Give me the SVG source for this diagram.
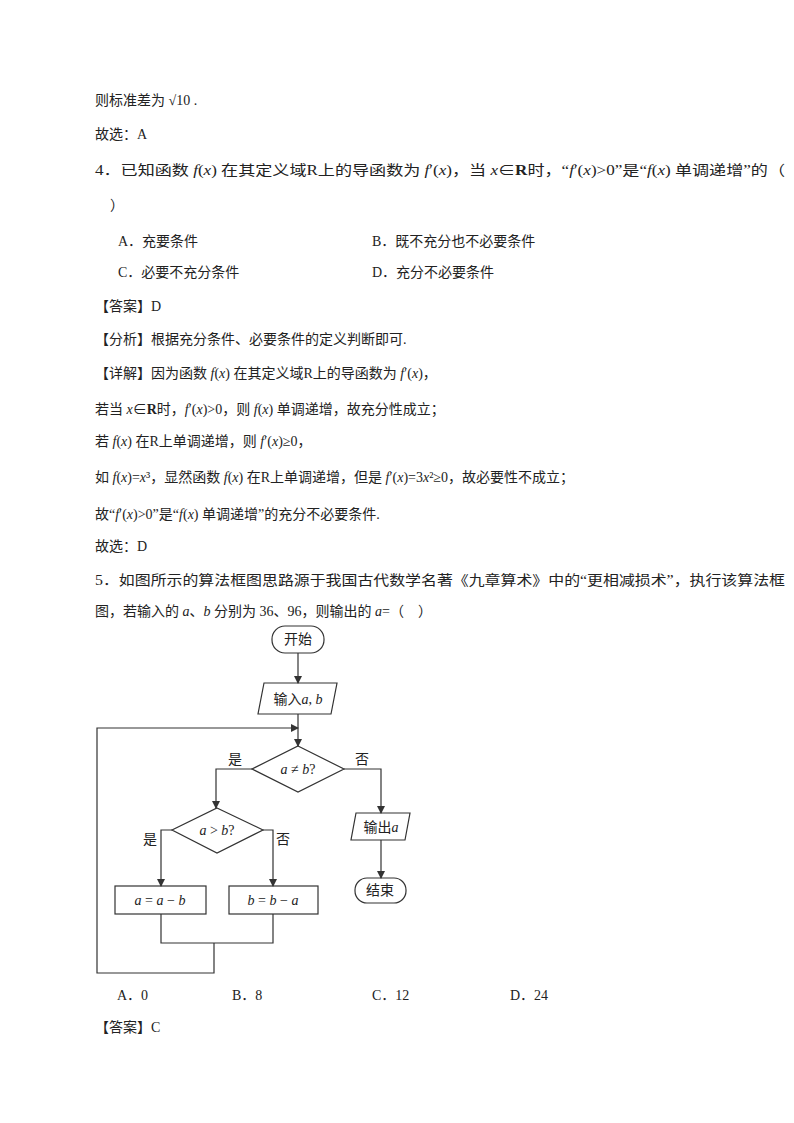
<svg xmlns="http://www.w3.org/2000/svg" width="794" height="1123" viewBox="0 0 794 1123">
<defs>
<marker id="ar" markerWidth="8" markerHeight="8" refX="7" refY="4" orient="auto" markerUnits="userSpaceOnUse"><path d="M0,0 L8,4 L0,8 Z" fill="#333"/></marker>
<style>
text{font-family:"Liberation Serif","Noto Sans CJK SC",serif;font-size:14px;fill:#222}
.c{text-anchor:middle}
.m{font-style:italic}
.s{fill:none;stroke:#333;stroke-width:1.2}
.e{fill:none;stroke:#333;stroke-width:1.2;marker-end:url(#ar)}
</style>
</defs>
<rect width="794" height="1123" fill="#fff"/>
<g id="text">
<text x="95" y="105">则标准差为 √10 .</text>
<text x="95" y="139">故选：A</text>
<text x="95" y="175" textLength="690" lengthAdjust="spacingAndGlyphs">4．已知函数 <tspan class="m">f</tspan>(<tspan class="m">x</tspan>) 在其定义域R上的导函数为 <tspan class="m">f</tspan>′(<tspan class="m">x</tspan>)，当 <tspan class="m">x</tspan>∈<tspan font-weight="bold">R</tspan>时，“<tspan class="m">f</tspan>′(<tspan class="m">x</tspan>)&gt;0”是“<tspan class="m">f</tspan>(<tspan class="m">x</tspan>) 单调递增”的（</text>
<text x="110" y="210">）</text>
<text x="118" y="246">A．充要条件</text>
<text x="372" y="246">B．既不充分也不必要条件</text>
<text x="118" y="277">C．必要不充分条件</text>
<text x="372" y="277">D．充分不必要条件</text>
<text x="95" y="311">【答案】D</text>
<text x="95" y="344">【分析】根据充分条件、必要条件的定义判断即可.</text>
<text x="95" y="378">【详解】因为函数 <tspan class="m">f</tspan>(<tspan class="m">x</tspan>) 在其定义域R上的导函数为 <tspan class="m">f</tspan>′(<tspan class="m">x</tspan>)，</text>
<text x="95" y="414">若当 <tspan class="m">x</tspan>∈<tspan font-weight="bold">R</tspan>时，<tspan class="m">f</tspan>′(<tspan class="m">x</tspan>)&gt;0，则 <tspan class="m">f</tspan>(<tspan class="m">x</tspan>) 单调递增，故充分性成立；</text>
<text x="95" y="446">若 <tspan class="m">f</tspan>(<tspan class="m">x</tspan>) 在R上单调递增，则 <tspan class="m">f</tspan>′(<tspan class="m">x</tspan>)≥0，</text>
<text x="95" y="482">如 <tspan class="m">f</tspan>(<tspan class="m">x</tspan>)=<tspan class="m">x</tspan>³，显然函数 <tspan class="m">f</tspan>(<tspan class="m">x</tspan>) 在R上单调递增，但是 <tspan class="m">f</tspan>′(<tspan class="m">x</tspan>)=3<tspan class="m">x</tspan>²≥0，故必要性不成立；</text>
<text x="95" y="519">故“<tspan class="m">f</tspan>′(<tspan class="m">x</tspan>)&gt;0”是“<tspan class="m">f</tspan>(<tspan class="m">x</tspan>) 单调递增”的充分不必要条件.</text>
<text x="95" y="551">故选：D</text>
<text x="95" y="585" textLength="690" lengthAdjust="spacingAndGlyphs">5．如图所示的算法框图思路源于我国古代数学名著《九章算术》中的“更相减损术”，执行该算法框</text>
<text x="95" y="616">图，若输入的 <tspan class="m">a</tspan>、<tspan class="m">b</tspan> 分别为 36、96，则输出的 <tspan class="m">a</tspan>=（　）</text>
<text x="117" y="1000">A．0</text>
<text x="232" y="1000">B．8</text>
<text x="372" y="1000">C．12</text>
<text x="510" y="1000">D．24</text>
<text x="95" y="1032">【答案】C</text>
</g>
<g id="start"><rect x="272" y="626" width="52" height="27" rx="13" class="s"/><text x="298" y="644" class="c">开始</text></g>
<g id="input"><polygon points="264,683 337,683 331,714 258,714" class="s"/><text x="298" y="704" class="c">输入<tspan class="m">a</tspan>, <tspan class="m">b</tspan></text></g>
<g id="d1"><polygon points="298,746 344,769 298,792 252,769" class="s"/><text x="298" y="774" class="c"><tspan class="m">a</tspan> ≠ <tspan class="m">b</tspan>?</text></g>
<g id="d2"><polygon points="217,808 263,830 217,853 172,830" class="s"/><text x="217" y="835" class="c"><tspan class="m">a</tspan> &gt; <tspan class="m">b</tspan>?</text></g>
<g id="boxa"><rect x="115" y="886" width="91" height="28" class="s"/><text x="160" y="905" class="c"><tspan class="m">a</tspan> = <tspan class="m">a</tspan> − <tspan class="m">b</tspan></text></g>
<g id="boxb"><rect x="229" y="886" width="89" height="28" class="s"/><text x="273" y="905" class="c"><tspan class="m">b</tspan> = <tspan class="m">b</tspan> − <tspan class="m">a</tspan></text></g>
<g id="output"><polygon points="356,813 410,813 405,840 351,840" class="s"/><text x="381" y="832" class="c">输出<tspan class="m">a</tspan></text></g>
<g id="end"><rect x="355" y="878" width="51" height="25" rx="12" class="s"/><text x="380" y="895" class="c">结束</text></g>
<g id="labels">
<text x="235" y="764" class="c">是</text><text x="362" y="764" class="c">否</text>
<text x="150" y="844" class="c">是</text><text x="283" y="844" class="c">否</text>
</g>
<g id="connectors">
<path d="M298,653 V683" class="e"/>
<path d="M298,714 V746" class="e"/>
<path d="M252,769 H216 V808" class="e"/>
<path d="M344,769 H381 V813" class="e"/>
<path d="M381,840 V878" class="e"/>
<path d="M172,830 H161 V886" class="e"/>
<path d="M263,830 H273 V886" class="e"/>
<path d="M161,914 V943 H273 V914" class="s"/>
<path d="M214,943 V973 H97 V728 H298" class="e"/>
</g>
</svg>
